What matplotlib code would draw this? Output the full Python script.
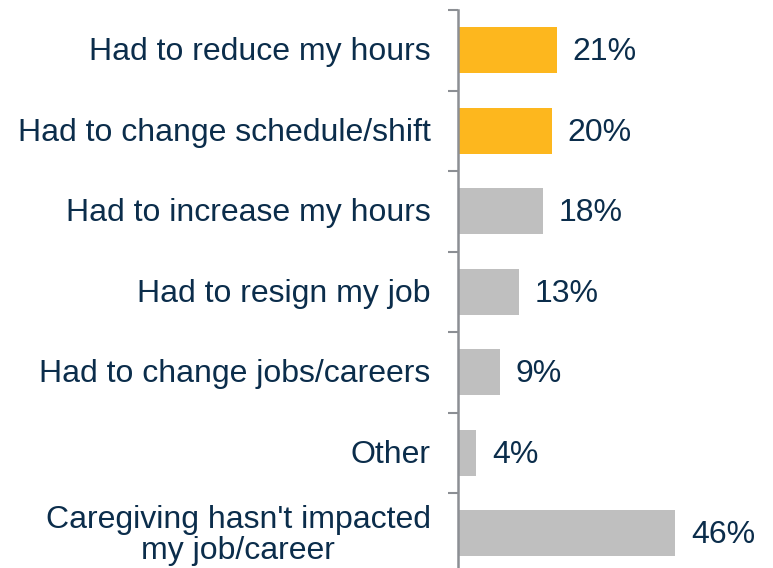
import matplotlib.pyplot as plt

# データ
categories = ["Had to reduce my hours", "Had to change schedule/shift",
              "Had to increase my hours", "Had to resign my job",
              "Had to change jobs/careers", "Other",
              "Caregiving hasn't impacted\nmy job/career"]
values = [21, 20, 18, 13, 9, 4, 46]
highlight = [True, True, False, False, False, False, False]

ORANGE = "#FDB71E"
GRAY = "#BFBFBF"
TEXT = "#0B2D4B"
AXIS = "#8C8F94"

plt.rcParams['font.family'] = ['Liberation Sans', 'DejaVu Sans']

fig = plt.figure(figsize=(7.73, 5.68), dpi=100)
ax = fig.add_axes([457.5 / 773, -0.0097, 284 / 773, 0.992])

colors = [ORANGE if h else GRAY for h in highlight]
ypos = list(range(len(categories)))
ax.barh(ypos, values, height=0.57, color=colors)

ax.set_ylim(len(categories) - 0.5, -0.5)
ax.set_xlim(0, 60)

# 値ラベル
for y, v in zip(ypos, values):
    ax.text(v + 3.3, y + 0.025, "{}%".format(v), va="center", ha="left",
            fontsize=23, color=TEXT)

# カテゴリラベル
for y, c in zip(ypos, categories):
    ax.text(-5.7, y + 0.025, c, va="center", ha="right", fontsize=23,
            color=TEXT, linespacing=1.05, multialignment="center")

ax.set_yticks([i - 0.5 for i in range(len(categories) + 1)])
ax.set_yticklabels([])
ax.tick_params(axis="y", length=7, width=1.5, color=AXIS)
ax.set_xticks([])
for s in ["top", "right", "bottom"]:
    ax.spines[s].set_visible(False)
ax.spines["left"].set_color(AXIS)
ax.spines["left"].set_linewidth(1.8)

plt.savefig("out.png", dpi=100)
